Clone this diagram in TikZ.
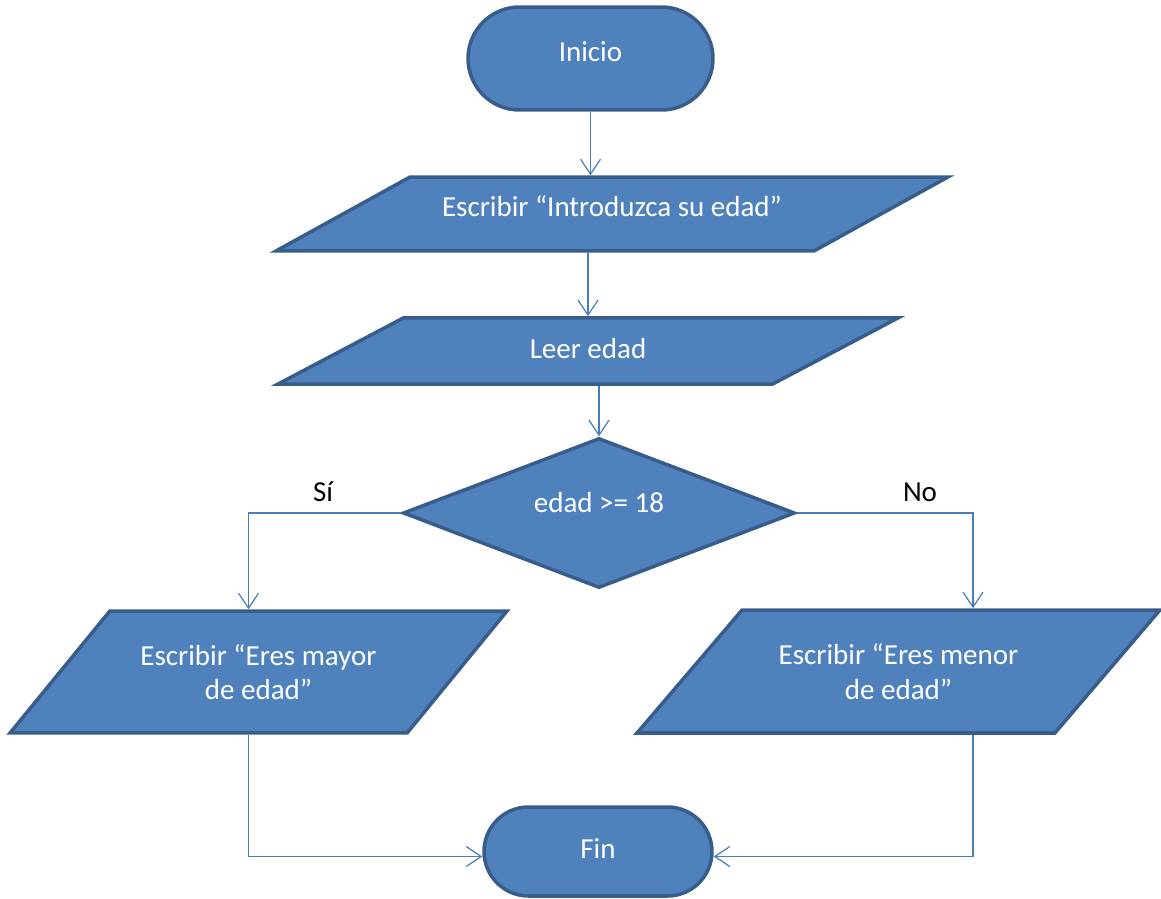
\documentclass[tikz,border=0pt]{standalone}
\usepackage{fontspec}
\setmainfont{Carlito}
\usepackage{tikz}
\usetikzlibrary{shapes.geometric, arrows.meta}

\definecolor{relleno}{HTML}{4F81BD}
\definecolor{borde}{HTML}{385D8A}
\definecolor{linea}{HTML}{4A7EBB}

\begin{document}
\begin{tikzpicture}[x=0.02cm, y=-0.02cm,
        forma/.style={draw=borde, fill=relleno, line width=2pt, text=white,
            font=\fontsize{16.5}{19.5}\selectfont, inner sep=0pt, align=center},
        terminal/.style={forma, rectangle},
        datos/.style={forma, trapezium, trapezium stretches body, inner xsep=0pt},
        decision/.style={forma, diamond},
        flecha/.style={draw=linea, line width=0.7pt, -{Straight Barb[length=3mm, width=4mm]}},
        rotulo/.style={font=\fontsize{16.5}{19.5}\selectfont, text=black}]
        \useasboundingbox (0, 0) rectangle (1161, 899);

        \node[terminal, minimum width=4.9cm, minimum height=2.06cm, rounded corners=1.03cm, text height=12pt, text depth=8.2pt] at (590.5, 58.5) (inicio) {Inicio};
        \node[datos, trapezium left angle=28.9, trapezium right angle=151.1, minimum width=13.44cm, text height=9.4pt, text depth=6.6pt, inner ysep=13.05pt] at (612, 214) (escribir) {Escribir “Introduzca su edad”};
        \node[datos, trapezium left angle=27.8, trapezium right angle=152.2, minimum width=12.4cm, text height=12.4pt, text depth=3.6pt, inner ysep=10.8pt] at (588, 351) (leer) {Leer edad};
        \node[decision, minimum width=7.84cm, minimum height=3cm, aspect=2.6, text height=12pt, text depth=12.2pt] at (599, 513) (cond) {edad >= 18};
        \node[datos, trapezium left angle=50.7, trapezium right angle=129.3, minimum width=9.94cm, text height=33.25pt, text depth=1.75pt, inner ysep=17.2pt] at (258.5, 672) (mayor) {Escribir “Eres mayor\\de edad”};
        \node[datos, trapezium left angle=49.5, trapezium right angle=130.5, minimum width=10.46cm, text height=33.25pt, text depth=1.75pt, inner ysep=17.5pt] at (898.5, 671.5) (menor) {Escribir “Eres menor\\de edad”};
        \node[terminal, minimum width=4.56cm, minimum height=1.78cm, rounded corners=0.89cm, text height=12pt, text depth=3.6pt] at (598, 851.5) (fin) {Fin};

        \node[rotulo] at (323, 492) (si) {Sí};
        \node[rotulo] at (920, 492) (no) {No};

        \draw[flecha] (inicio.south) to (inicio.south |- escribir.north);
        \draw[flecha] (escribir.south -| leer.north) to (leer.north);
        \draw[flecha] (leer.south -| cond.north) to (cond.north);
        \draw[flecha] (cond.west) -| ([xshift=-0.2cm]mayor.north);
        \draw[flecha] (cond.east) -| ([xshift=1.49cm]menor.north);
        \draw[flecha] ([xshift=-0.2cm]mayor.south) |- ([yshift=-0.1cm]fin.west);
        \draw[flecha] ([xshift=1.49cm]menor.south) |- ([yshift=-0.1cm]fin.east);
    \end{tikzpicture}
\end{document}
